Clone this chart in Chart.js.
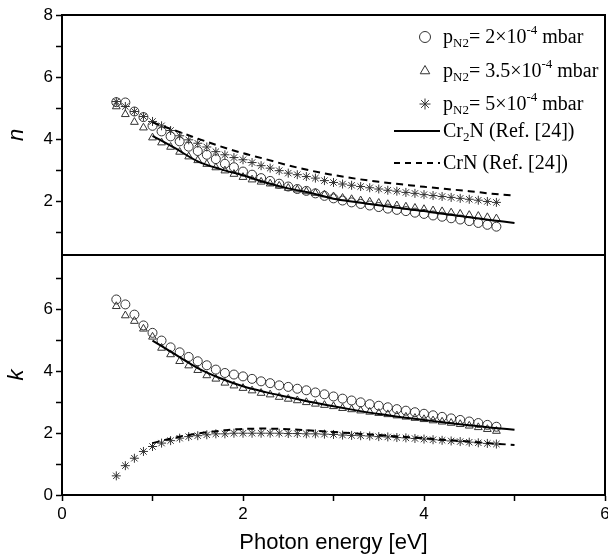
<!DOCTYPE html>
<html>
<head>
<meta charset="utf-8">
<script src="https://cdn.jsdelivr.net/npm/chart.js@4.4.1/dist/chart.umd.min.js"></script>
<style>
  html, body { margin: 0; padding: 0; background: #fff; }
  #wrap { width: 608px; height: 558px; }
</style>
</head>
<body>
<div id="wrap"><canvas id="myChart" width="608" height="558"></canvas></div>
<script>
// photon energy of the measured points [eV]
const energy = [0.6, 0.7, 0.8, 0.9, 1.0, 1.1, 1.2, 1.3, 1.4, 1.5, 1.6, 1.7, 1.8, 1.9, 2.0, 2.1, 2.2, 2.3, 2.4, 2.5, 2.6, 2.7,
                2.8, 2.9, 3.0, 3.1, 3.2, 3.3, 3.4, 3.5, 3.6, 3.7, 3.8, 3.9, 4.0, 4.1, 4.2, 4.3, 4.4, 4.5, 4.6, 4.7, 4.8]

// refractive index n
const n_p2 = [5.20, 5.19, 4.90, 4.72, 4.44, 4.26, 4.10, 3.94, 3.77, 3.63, 3.51, 3.37, 3.22, 3.11, 2.97, 2.87, 2.76, 2.67, 2.58, 2.49, 2.41, 2.35,
              2.27, 2.19, 2.11, 2.04, 1.98, 1.93, 1.88, 1.83, 1.78, 1.74, 1.70, 1.65, 1.61, 1.56, 1.52, 1.47, 1.43, 1.38, 1.32, 1.26, 1.20]
const n_p35 = [5.06, 4.81, 4.56, 4.38, 4.06, 3.90, 3.76, 3.60, 3.45, 3.33, 3.21, 3.10, 3.00, 2.89, 2.79, 2.71, 2.64, 2.58, 2.51, 2.44, 2.39, 2.33,
               2.28, 2.23, 2.17, 2.12, 2.08, 2.04, 2.00, 1.96, 1.92, 1.88, 1.84, 1.80, 1.76, 1.72, 1.69, 1.65, 1.61, 1.57, 1.54, 1.50, 1.46]
const n_p5 = [5.22, 5.06, 4.90, 4.74, 4.58, 4.44, 4.29, 4.12, 3.99, 3.88, 3.76, 3.61, 3.51, 3.42, 3.35, 3.26, 3.16, 3.08, 3.00, 2.92, 2.87, 2.81,
              2.76, 2.68, 2.62, 2.57, 2.53, 2.49, 2.45, 2.41, 2.37, 2.34, 2.30, 2.27, 2.23, 2.20, 2.17, 2.14, 2.11, 2.08, 2.05, 2.01, 1.98]

// extinction coefficient k
const k_p2 = [6.33, 6.17, 5.84, 5.49, 5.25, 5.00, 4.78, 4.62, 4.47, 4.33, 4.20, 4.06, 3.95, 3.90, 3.84, 3.76, 3.68, 3.62, 3.55, 3.50, 3.44, 3.39,
              3.32, 3.26, 3.19, 3.12, 3.06, 3.00, 2.94, 2.89, 2.84, 2.78, 2.73, 2.68, 2.63, 2.58, 2.53, 2.48, 2.43, 2.38, 2.33, 2.27, 2.21]
const k_p35 = [6.11, 5.81, 5.63, 5.38, 5.12, 4.76, 4.55, 4.33, 4.19, 4.04, 3.87, 3.76, 3.63, 3.54, 3.46, 3.38, 3.30, 3.25, 3.17, 3.11, 3.06, 3.00,
               2.95, 2.91, 2.87, 2.81, 2.77, 2.73, 2.69, 2.65, 2.61, 2.57, 2.53, 2.49, 2.45, 2.41, 2.37, 2.33, 2.29, 2.24, 2.19, 2.13, 2.07]
const k_p5 = [0.62, 0.95, 1.19, 1.41, 1.57, 1.68, 1.76, 1.84, 1.89, 1.92, 1.95, 1.98, 1.98, 2.00, 2.00, 2.00, 2.00, 2.00, 2.00, 1.99, 1.99, 1.98,
              1.98, 1.97, 1.96, 1.94, 1.93, 1.92, 1.91, 1.89, 1.88, 1.86, 1.85, 1.83, 1.81, 1.79, 1.77, 1.75, 1.73, 1.71, 1.69, 1.67, 1.65]

// reference curves (Ref. [24])
const refEnergy = [1.0, 1.25, 1.5, 1.75, 2.0, 2.25, 2.5, 2.75, 3.0, 3.25, 3.5, 3.75, 4.0, 4.25, 4.5, 4.75, 5.0]
const n_Cr2N = [4.12, 3.72, 3.30, 3.05, 2.85, 2.62, 2.43, 2.28, 2.10, 1.99, 1.89, 1.79, 1.70, 1.60, 1.50, 1.41, 1.32]
const n_CrN = [4.55, 4.29, 4.03, 3.78, 3.56, 3.37, 3.17, 3.00, 2.86, 2.74, 2.64, 2.56, 2.48, 2.41, 2.34, 2.26, 2.20]
const k_Cr2N = [5.00, 4.55, 4.11, 3.78, 3.52, 3.33, 3.17, 3.01, 2.87, 2.74, 2.62, 2.52, 2.43, 2.34, 2.26, 2.18, 2.11]
const k_CrN = [1.68, 1.86, 1.99, 2.08, 2.14, 2.15, 2.13, 2.09, 2.04, 1.99, 1.94, 1.89, 1.84, 1.78, 1.73, 1.67, 1.62]

const xTicks = [0, 2, 4, 6]
const nTicks = [2, 4, 6, 8]
const kTicks = [0, 2, 4, 6]

const pts = (xs, ys) => xs.map((x, i) => ({x: x, y: ys[i]}))

const markerColor = '#333'
const sans = "'Liberation Sans', Arial, sans-serif"
const serif = "'Liberation Serif', 'Times New Roman', serif"

function markers(label, ys, axis, style, r) {
    return {
        label: label,
        data: pts(energy, ys),
        yAxisID: axis,
        showLine: false,
        pointStyle: style,
        pointRadius: r,
        pointBorderWidth: 1,
        pointBorderColor: markerColor,
        pointBackgroundColor: 'rgba(0,0,0,0)',
        borderColor: markerColor
    }
}

function curve(label, ys, axis, dash) {
    return {
        label: label,
        data: pts(refEnergy, ys),
        yAxisID: axis,
        showLine: true,
        pointRadius: 0,
        borderColor: '#000',
        borderWidth: 2,
        borderDash: dash,
        cubicInterpolationMode: 'monotone'
    }
}

// box round the two panels and the line between them
const framePlugin = {
    id: 'frame',
    afterDraw(chart) {
        const {ctx, chartArea: a, scales} = chart
        ctx.save()
        ctx.strokeStyle = '#000'
        ctx.lineWidth = 2
        ctx.strokeRect(a.left, a.top, a.right - a.left, a.bottom - a.top)
        ctx.beginPath()
        ctx.moveTo(a.left, scales.k.top)
        ctx.lineTo(a.right, scales.k.top)
        ctx.stroke()
        ctx.restore()
    }
}

// legend with sub- and superscripts
const legendRows = [
    {kind: 'point', style: 'circle', parts: [['p'], ['N2', 'sub'], ['= 2×10'], ['-4', 'sup'], [' mbar']]},
    {kind: 'point', style: 'triangle', parts: [['p'], ['N2', 'sub'], ['= 3.5×10'], ['-4', 'sup'], [' mbar']]},
    {kind: 'point', style: 'star', parts: [['p'], ['N2', 'sub'], ['= 5×10'], ['-4', 'sup'], [' mbar']]},
    {kind: 'line', dash: [], parts: [['Cr'], ['2', 'sub'], ['N (Ref. [24])']]},
    {kind: 'line', dash: [6, 5], parts: [['CrN (Ref. [24])']]}
]
const legendY = [37, 71, 104, 131, 163]

const legendPlugin = {
    id: 'richLegend',
    afterDraw(chart) {
        const ctx = chart.ctx
        const size = 20
        ctx.save()
        legendRows.forEach((row, i) => {
            const y = legendY[i]
            if (row.kind === 'point') {
                ctx.strokeStyle = markerColor
                ctx.fillStyle = 'rgba(0,0,0,0)'
                ctx.lineWidth = 1
                Chart.helpers.drawPoint(ctx, {pointStyle: row.style, radius: 5.5, borderWidth: 1}, 425, y)
            } else {
                ctx.strokeStyle = '#000'
                ctx.lineWidth = 2
                ctx.setLineDash(row.dash)
                ctx.beginPath()
                ctx.moveTo(394, y)
                ctx.lineTo(440, y)
                ctx.stroke()
                ctx.setLineDash([])
            }
            let x = 443
            ctx.fillStyle = '#000'
            ctx.textBaseline = 'alphabetic'
            row.parts.forEach(p => {
                let fs = size, dy = 6
                if (p[1] === 'sub') { fs = 13; dy = 10 }
                if (p[1] === 'sup') { fs = 13; dy = -3 }
                ctx.font = fs + 'px ' + serif
                ctx.fillText(p[0], x, y + dy)
                x += ctx.measureText(p[0]).width
            })
        })
        ctx.restore()
    }
}

const tickLabel = list => v => list.includes(v) ? String(v) : ''

const ctx = document.getElementById('myChart')
const myChart = new Chart(ctx, {
    type: 'scatter',
    data: {
        datasets: [
            curve('Cr2N n', n_Cr2N, 'n', []),
            curve('CrN n', n_CrN, 'n', [7, 5]),
            curve('Cr2N k', k_Cr2N, 'k', []),
            curve('CrN k', k_CrN, 'k', [7, 5]),
            markers('2e-4 n', n_p2, 'n', 'circle', 4.5),
            markers('3.5e-4 n', n_p35, 'n', 'triangle', 4.5),
            markers('5e-4 n', n_p5, 'n', 'star', 4.5),
            markers('2e-4 k', k_p2, 'k', 'circle', 4.5),
            markers('3.5e-4 k', k_p35, 'k', 'triangle', 4.5),
            markers('5e-4 k', k_p5, 'k', 'star', 4.5)
        ]
    },
    options: {
        responsive: false,
        animation: false,
        layout: {autoPadding: false, padding: {top: 15, right: 3, left: 0, bottom: 0}},
        plugins: {legend: {display: false}, tooltip: {enabled: false}},
        scales: {
            x: {
                type: 'linear',
                min: 0, max: 6,
                grid: {drawOnChartArea: false, color: '#000', tickLength: 6, tickWidth: 1.5},
                border: {color: '#000', width: 2},
                ticks: {stepSize: 1, color: '#000', padding: 3, font: {family: sans, size: 17}, callback: tickLabel(xTicks), maxRotation: 0, autoSkip: false},
                title: {display: true, text: 'Photon energy [eV]', color: '#000', font: {family: sans, size: 22}, padding: {top: 0, bottom: 2}},
                afterFit: s => { s.height = 63; s.paddingLeft = 0; s.paddingRight = 0 }
            },
            k: {
                type: 'linear',
                position: 'left',
                stack: 'panels',
                stackWeight: 1,
                min: 0, max: 7.77,
                grid: {drawOnChartArea: false, color: '#000', tickLength: 6, tickWidth: 1.5},
                border: {color: '#000', width: 2},
                ticks: {stepSize: 1, includeBounds: false, color: '#000', padding: 3, font: {family: sans, size: 17}, callback: tickLabel(kTicks), autoSkip: false},
                title: {display: true, text: 'k', color: '#000', font: {family: sans, size: 22, style: 'italic'}, padding: {top: 4, bottom: 0}},
                afterFit: s => { s.width = 62; s.paddingTop = 0; s.paddingBottom = 0 }
            },
            n: {
                type: 'linear',
                position: 'left',
                stack: 'panels',
                stackWeight: 1,
                min: 0.29, max: 8,
                grid: {drawOnChartArea: false, color: '#000', tickLength: 6, tickWidth: 1.5},
                border: {color: '#000', width: 2},
                ticks: {stepSize: 1, includeBounds: false, color: '#000', padding: 3, font: {family: sans, size: 17}, callback: tickLabel(nTicks), autoSkip: false},
                title: {display: true, text: 'n', color: '#000', font: {family: sans, size: 22, style: 'italic'}, padding: {top: 4, bottom: 0}},
                afterFit: s => { s.width = 62; s.paddingTop = 0; s.paddingBottom = 0 }
            }
        }
    },
    plugins: [framePlugin, legendPlugin]
})
</script>
</body>
</html>
